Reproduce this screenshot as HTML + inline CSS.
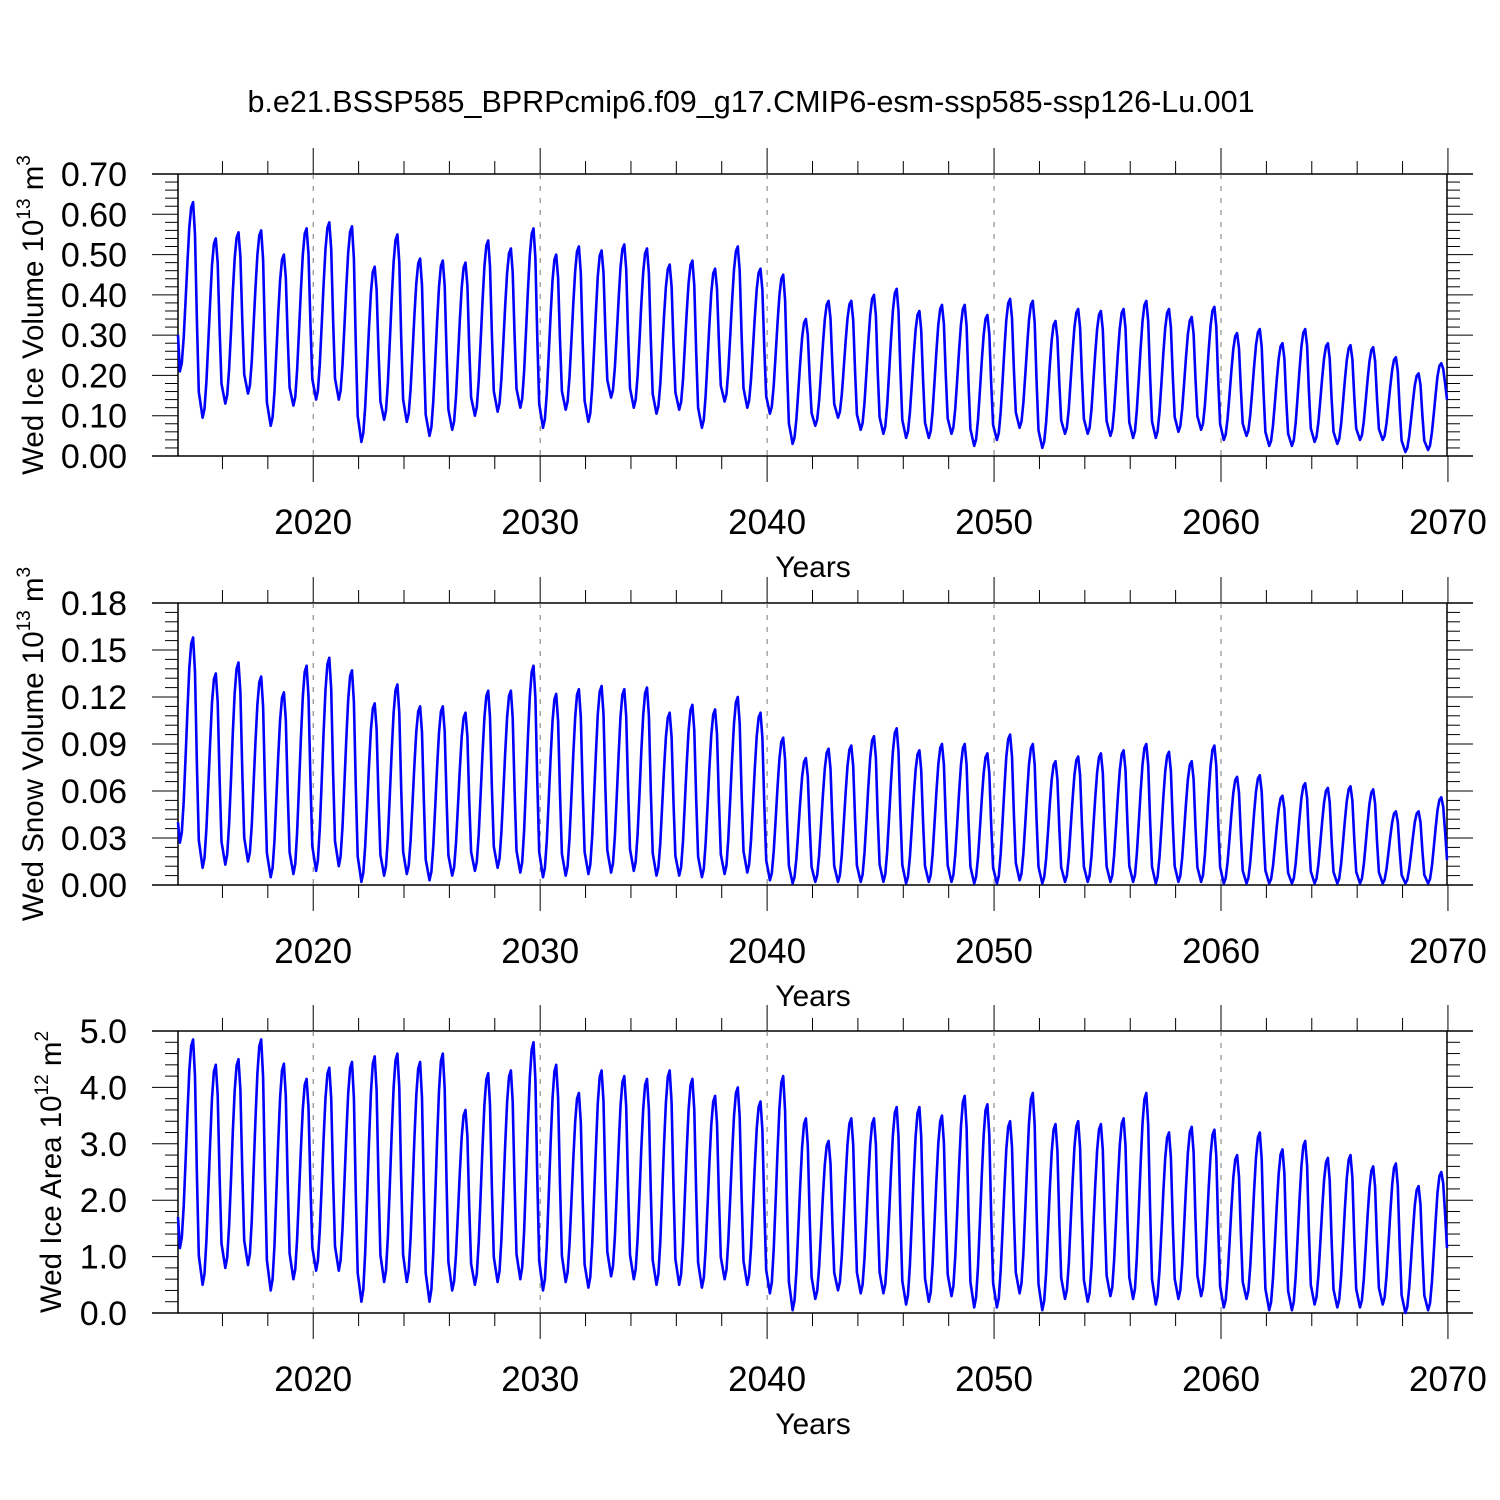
<!DOCTYPE html>
<html><head><meta charset="utf-8">
<style>
html,body{margin:0;padding:0;background:#fff;}
svg{display:block;font-family:"Liberation Sans",Arial,sans-serif;}
</style></head>
<body>
<svg id="chart" width="1500" height="1500" viewBox="0 0 1500 1500">
<text x="751" y="112" font-size="30.5" text-anchor="middle">b.e21.BSSP585_BPRPcmip6.f09_g17.CMIP6-esm-ssp585-ssp126-Lu.001</text>
</svg>
<script>
// ---- data: per-year seasonal peaks (Sep) and troughs (Feb), 2014..2069 ----
const years = [];
for (let y = 2014; y <= 2069; y++) years.push(y);

const icePeaks = [0.63,0.54,0.555,0.56,0.50,0.565,0.58,0.57,0.47,0.55,0.49,0.485,0.48,0.535,0.515,0.565,0.50,0.52,0.51,0.525,0.515,0.475,0.485,0.465,0.52,0.465,0.45,0.34,0.385,0.385,0.40,0.415,0.36,0.375,0.375,0.35,0.39,0.385,0.335,0.365,0.36,0.365,0.385,0.365,0.345,0.37,0.305,0.315,0.28,0.315,0.28,0.275,0.27,0.245,0.205,0.23];
const iceTroughs = [0.21,0.095,0.13,0.155,0.075,0.125,0.14,0.14,0.035,0.09,0.085,0.05,0.065,0.10,0.11,0.12,0.07,0.115,0.085,0.145,0.12,0.105,0.115,0.07,0.135,0.12,0.105,0.03,0.075,0.095,0.065,0.055,0.045,0.045,0.055,0.025,0.04,0.07,0.02,0.055,0.055,0.05,0.045,0.045,0.06,0.065,0.04,0.05,0.025,0.025,0.035,0.03,0.04,0.04,0.01,0.015];
const iceEnds = [0.30, 0.14];

const snowPeaks = [0.158,0.135,0.142,0.133,0.123,0.140,0.145,0.137,0.116,0.128,0.114,0.114,0.110,0.124,0.124,0.140,0.122,0.125,0.127,0.125,0.126,0.110,0.115,0.112,0.120,0.110,0.094,0.081,0.087,0.089,0.095,0.100,0.086,0.090,0.090,0.084,0.096,0.090,0.079,0.082,0.084,0.086,0.090,0.085,0.079,0.089,0.069,0.070,0.057,0.065,0.062,0.063,0.061,0.047,0.047,0.056];
const snowTroughs = [0.027,0.011,0.013,0.015,0.005,0.007,0.009,0.012,0.002,0.006,0.007,0.003,0.006,0.009,0.011,0.008,0.005,0.006,0.007,0.008,0.009,0.006,0.006,0.005,0.007,0.008,0.003,0.001,0.002,0.002,0.002,0.002,0.001,0.002,0.002,0.001,0.001,0.003,0.001,0.002,0.002,0.002,0.002,0.001,0.002,0.002,0.001,0.001,0.001,0.001,0.001,0.001,0.001,0.001,0.001,0.001];
const snowEnds = [0.040, 0.016];

const areaPeaks = [4.85,4.4,4.5,4.85,4.42,4.15,4.35,4.45,4.55,4.6,4.45,4.6,3.6,4.25,4.3,4.8,4.4,3.9,4.3,4.2,4.15,4.3,4.15,3.85,4.0,3.75,4.2,3.45,3.05,3.45,3.45,3.65,3.65,3.5,3.85,3.7,3.4,3.9,3.35,3.4,3.35,3.45,3.9,3.2,3.3,3.25,2.8,3.2,2.9,3.05,2.75,2.8,2.6,2.65,2.25,2.5];
const areaTroughs = [1.15,0.5,0.8,0.85,0.4,0.6,0.75,0.75,0.2,0.55,0.55,0.2,0.4,0.5,0.55,0.6,0.4,0.55,0.45,0.65,0.6,0.5,0.5,0.45,0.6,0.5,0.35,0.05,0.25,0.4,0.35,0.35,0.15,0.2,0.3,0.1,0.1,0.35,0.05,0.25,0.2,0.3,0.25,0.15,0.25,0.3,0.1,0.25,0.05,0.05,0.15,0.1,0.1,0.15,0.0,0.05];
const areaEnds = [1.7, 1.15];

const xTickLabels = ["2020","2030","2040","2050","2060","2070"];
const iceTicks = ["0.00","0.10","0.20","0.30","0.40","0.50","0.60","0.70"];
const snowTicks = ["0.00","0.03","0.06","0.09","0.12","0.15","0.18"];
const areaTicks = ["0.0","1.0","2.0","3.0","4.0","5.0"];

// seasonal shape fractions (Mar..Sep rise, Oct..Dec fall)
const rise = [0.05,0.2,0.42,0.65,0.85,0.97,1.0];
const fall = [0.85,0.45,0.12];

function buildMonthly(peaks, troughs, ends){
  const out = [];
  for (let i = 0; i < peaks.length; i++){
    const p = peaks[i], t = troughs[i];
    const nt = i + 1 < troughs.length ? troughs[i+1] : ends[1];
    const jan = i === 0 ? ends[0] : t + (peaks[i-1] - t) * 0.06;
    out.push(jan); out.push(t);
    rise.forEach(f => out.push(t + (p - t) * f));
    if (i === peaks.length - 1) { out.push(nt + (p-nt)*0.85); out.push(nt + (p-nt)*0.45); out.push(nt); }
    else fall.forEach(f => out.push(nt + (p - nt) * f));
  }
  return out;
}

const NS = "http://www.w3.org/2000/svg";
const svg = document.getElementById("chart");
const X0 = 178, X1 = 1447, T0 = 2014 + 0.5/12, T1 = 2070 - 0.5/12;
function xs(t){ return X0 + (t - T0) / (T1 - T0) * (X1 - X0); }

function el(tag, attrs, parent){
  const e = document.createElementNS(NS, tag);
  for (const k in attrs) e.setAttribute(k, attrs[k]);
  (parent || svg).appendChild(e);
  return e;
}

function panel(name, top, bot, ymax, majorStep, minorStep, ticks, label, supTxt, unitTxt, peaks, troughs, ends, labelX){
  const g = el("g", {});
  
  
  const ys = v => bot - v / ymax * (bot - top);
  el("line", {x1:152,y1:top,x2:1473,y2:top,stroke:"#000","stroke-width":1.5}, g);
  el("line", {x1:152,y1:bot,x2:1473,y2:bot,stroke:"#000","stroke-width":1.5}, g);
  el("line", {x1:X0,y1:top,x2:X0,y2:bot,stroke:"#000","stroke-width":1.5}, g);
  el("line", {x1:X1,y1:top,x2:X1,y2:bot,stroke:"#000","stroke-width":1.5}, g);
  const nMinor = Math.round(ymax / minorStep);
  for (let k = 0; k <= nMinor; k++){
    const v = k * minorStep, y = ys(v);
    const major = Math.abs(v / majorStep - Math.round(v / majorStep)) < 1e-6;
    const L = major ? 26 : 13;
    el("line", {x1:X0-L,y1:y,x2:X0,y2:y,stroke:"#000","stroke-width":1}, g);
    el("line", {x1:X1,y1:y,x2:X1+L,y2:y,stroke:"#000","stroke-width":1}, g);
  }
  ticks.forEach((lab, k) => {
    const t = el("text", {x:127, y:ys(k*majorStep)+12, "font-size":34, "text-anchor":"end"}, g);
    t.textContent = lab;
    
    
  });
  for (let yr = 2016; yr <= 2070; yr += 2){
    const x = xs(yr), major = yr % 10 === 0;
    const L = major ? 26 : 13;
    el("line", {x1:x,y1:top-L,x2:x,y2:top,stroke:"#000","stroke-width":1}, g);
    el("line", {x1:x,y1:bot,x2:x,y2:bot+L,stroke:"#000","stroke-width":1}, g);
    if (major && yr < 2070) el("line", {x1:x,y1:top,x2:x,y2:bot,stroke:"#777","stroke-width":1,"stroke-dasharray":"5,7"}, g);
  }
  xTickLabels.forEach(lab => {
    const t = el("text", {x:xs(+lab), y:bot+78, "font-size":35, "text-anchor":"middle"}, g);
    t.textContent = lab;
    
    
  });
  const xt = el("text", {x:813, y:bot+121, "font-size":30, "text-anchor":"middle"}, g);
  xt.textContent = "Years";
  
  
  const cy = (top + bot) / 2 - 0;
  const yt = el("text", {transform:`translate(${labelX},${cy}) rotate(-90)`, "font-size":29.5, "text-anchor":"middle"}, g);
  
  
  const s1 = document.createElementNS(NS, "tspan"); s1.textContent = label + " 10"; yt.appendChild(s1);
  const s2 = document.createElementNS(NS, "tspan"); s2.textContent = supTxt; s2.setAttribute("font-size", "19"); s2.setAttribute("dy", "-13"); yt.appendChild(s2);
  const s3 = document.createElementNS(NS, "tspan"); s3.textContent = " " + unitTxt; s3.setAttribute("dy", "13"); yt.appendChild(s3);
  const s4 = document.createElementNS(NS, "tspan"); s4.textContent = name === "area" ? "2" : "3"; s4.setAttribute("font-size", "19"); s4.setAttribute("dy", "-13"); yt.appendChild(s4);
  const vals = buildMonthly(peaks, troughs, ends);
  const pts = vals.map((v, i) => xs(2014 + (i + 0.5) / 12).toFixed(1) + "," + ys(v).toFixed(1)).join(" ");
  const line = el("polyline", {points:pts, fill:"none", stroke:"#0000ff", "stroke-width":2.6, "stroke-linejoin":"round"}, g);
  
  
}

panel("ice-volume", 174, 456, 0.70, 0.10, 0.02, iceTicks, "Wed Ice Volume", "13", "m", icePeaks, iceTroughs, iceEnds, 43);
panel("snow-volume", 603, 885, 0.18, 0.03, 0.006, snowTicks, "Wed Snow Volume", "13", "m", snowPeaks, snowTroughs, snowEnds, 43);
panel("area", 1031, 1313, 5.0, 1.0, 0.2, areaTicks, "Wed Ice Area", "12", "m", areaPeaks, areaTroughs, areaEnds, 61);
</script>
</body></html>
